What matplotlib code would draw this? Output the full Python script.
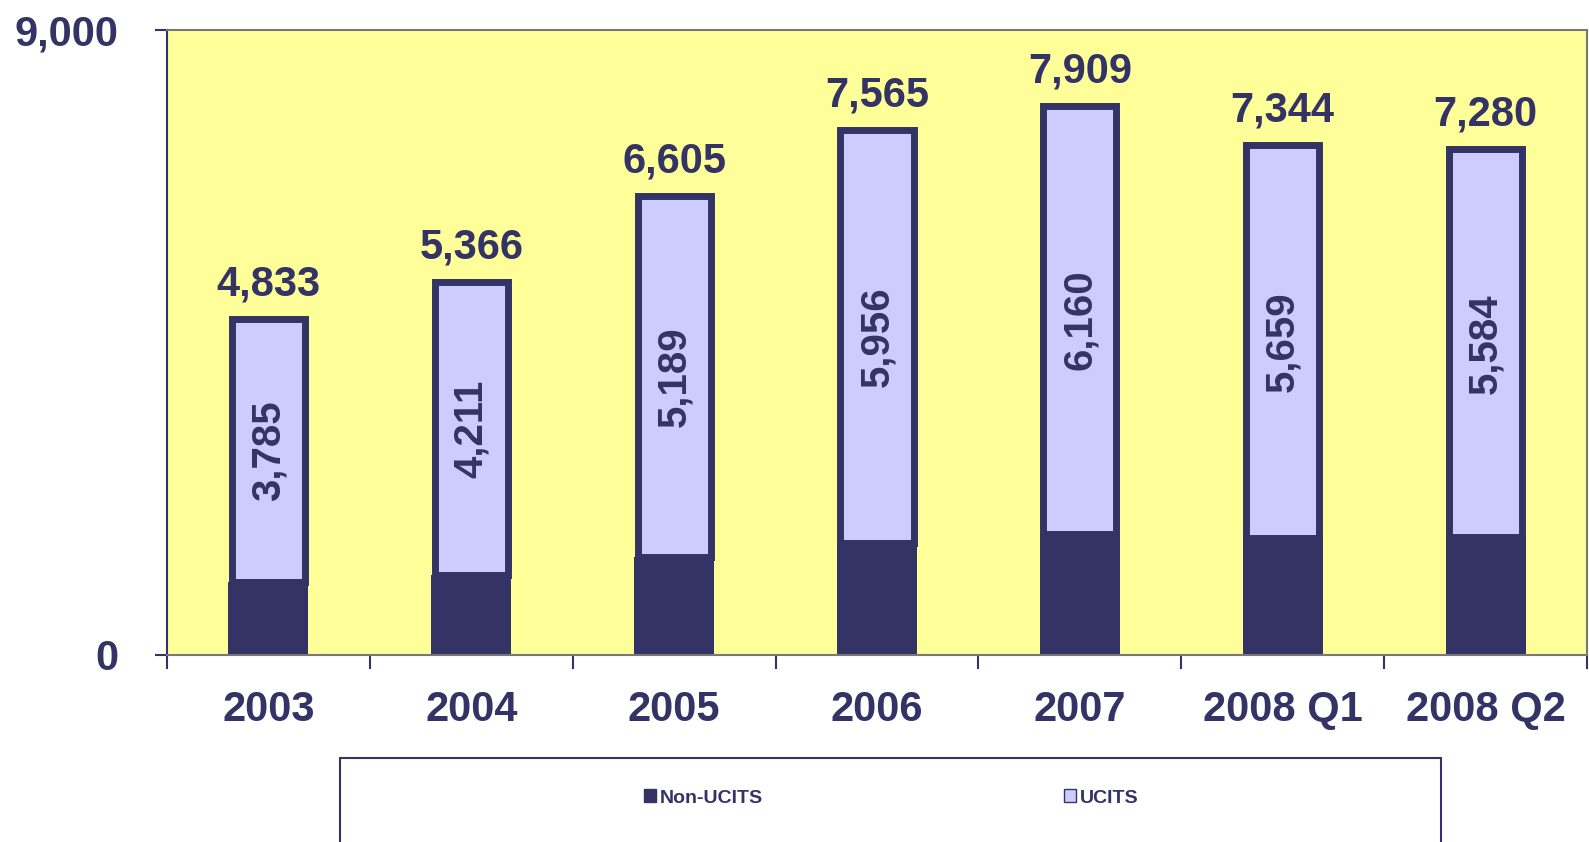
import matplotlib
matplotlib.use("Agg")
import matplotlib.pyplot as plt
from matplotlib.patches import Rectangle, Patch

# data
periods = ["2003", "2004", "2005", "2006", "2007", "2008 Q1", "2008 Q2"]
totals = [4833, 5366, 6605, 7565, 7909, 7344, 7280]
ucits = [3785, 4211, 5189, 5956, 6160, 5659, 5584]
non_ucits = [t - u for t, u in zip(totals, ucits)]

navy = "#333366"
lavender = "#CCCCFF"
yellow = "#FFFF99"

plt.rcParams['font.family'] = ['Liberation Sans', 'DejaVu Sans']
plt.rcParams['font.weight'] = 'bold'

fig = plt.figure(figsize=(15.89, 8.42), dpi=100)
ax = fig.add_axes([167 / 1589, 1 - 655 / 842, 1420 / 1589, 625 / 842])
ax.set_facecolor(yellow)

x = list(range(len(periods)))
w = 0.36
ax.bar(x, non_ucits, width=w + 0.035, color=navy, linewidth=0, zorder=2)
ax.bar(x, ucits, width=w, bottom=non_ucits, color=lavender,
       edgecolor=navy, linewidth=5, zorder=3)

for i in x:
    ax.annotate(f"{totals[i]:,}", (i, totals[i]), xytext=(0, 17),
                textcoords="offset points", ha="center", va="baseline",
                fontsize=30, fontweight="bold", color=navy)
    ax.text(i, non_ucits[i] + ucits[i] / 2, f"{ucits[i]:,}", rotation=90,
            ha="center", va="center", fontsize=29, fontweight="bold",
            color=navy, zorder=4)

ax.set_xlim(-0.5, 6.5)
ax.set_ylim(0, 9000)
ax.set_yticks([0, 9000])
ax.set_yticklabels(["0", "9,000"])
ax.set_xticks(x)
ax.set_xticklabels(periods)
ax.set_xticks([i - 0.5 for i in range(len(periods) + 1)], minor=True)
ax.tick_params(axis="x", which="major", length=0, pad=25, labelsize=30,
               labelcolor=navy)
ax.tick_params(axis="x", which="minor", length=10, width=1.5, color=navy,
               direction="out")
ax.tick_params(axis="y", length=9, width=1.5, color=navy, pad=26,
               labelsize=30, labelcolor=navy)
for lab in ax.get_xticklabels() + ax.get_yticklabels():
    lab.set_fontweight("bold")

ax.spines["left"].set_color(navy)
ax.spines["left"].set_linewidth(1.5)
for s in ["top", "bottom", "right"]:
    ax.spines[s].set_color("#777777")
    ax.spines[s].set_linewidth(1.5)

# legend box running off the bottom edge
fig.patches.append(Rectangle((340 / 1589, -0.05), 1101 / 1589, 0.05 + 84 / 842,
                             transform=fig.transFigure, fill=False,
                             edgecolor=navy, linewidth=1.5, clip_on=False))
handles = [Patch(facecolor=navy, edgecolor=navy, label="Non-UCITS"),
           Patch(facecolor=lavender, edgecolor=navy, label="UCITS")]
leg = fig.legend(handles=handles, loc="center", bbox_to_anchor=(891 / 1589, 1 - 798 / 842),
                 ncol=2, frameon=False, fontsize=14, handlelength=0.6,
                 handleheight=0.6, handletextpad=0.2, columnspacing=15.5,
                 prop={"weight": "bold", "size": 14})
for t in leg.get_texts():
    t.set_color(navy)

fig.savefig("out.png", dpi=100)
